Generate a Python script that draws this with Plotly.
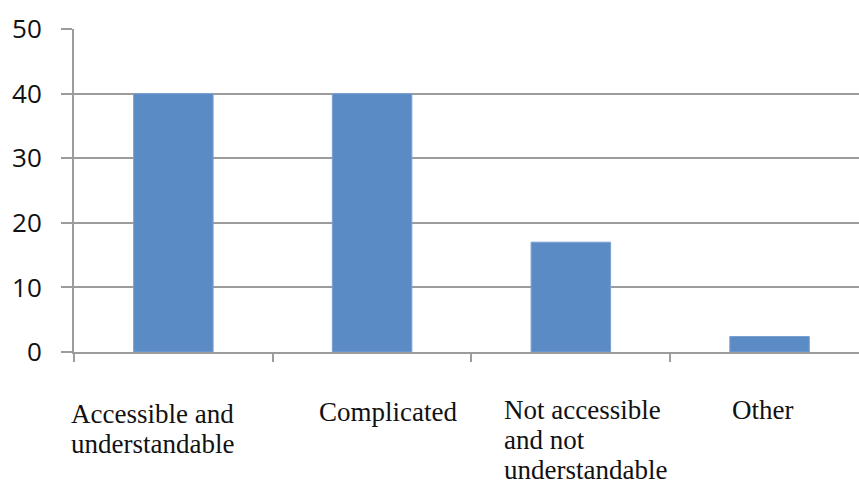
import plotly.graph_objects as go

# Survey responses: how the material was perceived
categories = ["Accessible and understandable", "Complicated",
              "Not accessible and not understandable", "Other"]
label_lines = [["Accessible and", "understandable"],
               ["Complicated"],
               ["Not accessible", "and not", "understandable"],
               ["Other"]]
values = [40, 40, 17, 2.4]
y_ticks = [0, 10, 20, 30, 40, 50]

BAR = "#5b8bc5"
GRID = "#9c9c9c"
SERIF = "Liberation Serif"
LABEL_SIZE = 27

fig = go.Figure(
    go.Bar(
        x=categories,
        y=values,
        width=0.40,
        marker=dict(color=BAR, line=dict(color="#7aa0d2", width=1)),
    )
)

# Category labels: left-aligned, one annotation per line for tight leading
label_dx = [-104, -55, -69, -40]
first_line_drop = [-62, -60, -58, -58]
leading = 30
for i, lines in enumerate(label_lines):
    for j, line in enumerate(lines):
        fig.add_annotation(
            x=i, y=0, xref="x", yref="paper",
            text=f"<span style='font-family:{SERIF}'>{line}</span>",
            showarrow=False,
            xanchor="left", yanchor="middle", align="left",
            xshift=label_dx[i],
            yshift=first_line_drop[i] - leading * j,
            font=dict(family=SERIF, size=LABEL_SIZE, color="#111111"),
        )

fig.update_layout(
    width=859, height=482,
    margin=dict(l=74, r=0, t=29, b=130),
    paper_bgcolor="white", plot_bgcolor="white",
    showlegend=False,
)

fig.update_xaxes(
    type="category",
    range=[-0.5, 3.45],
    showticklabels=False,
    ticks="outside", ticklen=8, tickwidth=2, tickcolor=GRID,
    tickson="boundaries",
    showline=True, linecolor=GRID, linewidth=2,
    showgrid=False, zeroline=False,
)

fig.update_yaxes(
    range=[0, 50],
    tickvals=y_ticks, ticktext=[str(t) for t in y_ticks],
    ticks="outside", ticklen=11, tickwidth=2, tickcolor=GRID,
    ticklabelstandoff=14,
    showline=True, linecolor=GRID, linewidth=2,
    showgrid=True, gridcolor=GRID, gridwidth=2,
    zeroline=False,
    tickfont=dict(family="Open Sans", size=26, color="#111111"),
)

fig.write_html("out.html")
